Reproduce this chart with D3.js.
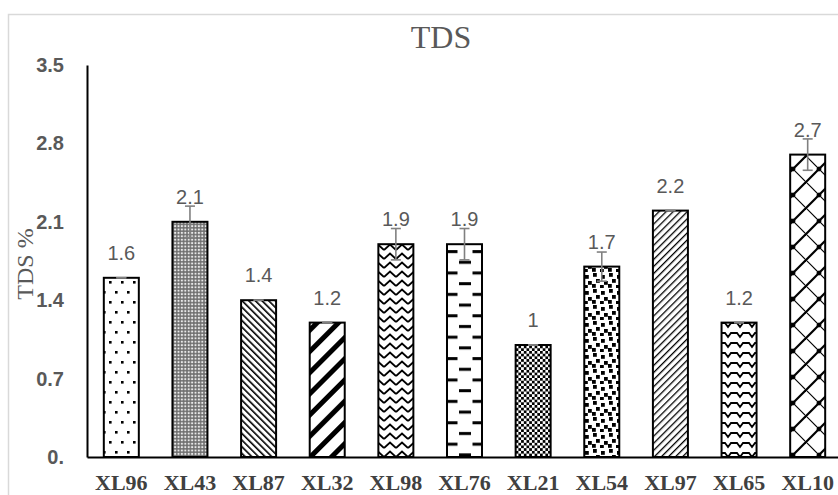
<!DOCTYPE html>
<html><head><meta charset="utf-8">
<script src="https://cdn.jsdelivr.net/npm/d3@7"></script>
<style>body{margin:0;background:#fff}svg{display:block}</style>
</head><body><svg id="c" width="838" height="495"></svg>
<script>
const categories = ["XL96","XL43","XL87","XL32","XL98","XL76","XL21","XL54","XL97","XL65","XL10"];
const values = [1.6,2.1,1.4,1.2,1.9,1.9,1.0,1.7,2.2,1.2,2.7];
const errors = [0,0.14,0,0,0.14,0.14,0,0.13,0,0,0.14];
const valueLabels = ["1.6","2.1","1.4","1.2","1.9","1.9","1","1.7","2.2","1.2","2.7"];
const yTickValues = [0,0.7,1.4,2.1,2.8,3.5];
const yTickLabels = ["0.","0.7","1.4","2.1","2.8","3.5"];
const chartTitle = "TDS";
const yAxisTitle = "TDS %";

const svg = d3.select("#c");
svg.append("rect").attr("width",838).attr("height",495).attr("fill","#fff");
svg.append("rect").attr("x",8.5).attr("y",14.5).attr("width",900).attr("height",600)
  .attr("fill","none").attr("stroke","#d9d9d9").attr("stroke-width",1.5);

const x = d3.scaleBand().domain(categories).range([87, 842]).paddingInner(0.49).paddingOuter(0.245);
const y = d3.scaleLinear().domain([0,3.5]).range([457,65]);

// patterns
const defs = svg.append("defs");
function pat(id,w,h,transform){
  const p = defs.append("pattern").attr("id",id).attr("patternUnits","userSpaceOnUse")
    .attr("width",w).attr("height",h);
  if (transform) p.attr("patternTransform",transform);
  p.append("rect").attr("width",w).attr("height",h).attr("fill","#fff");
  return p;
}
const patMakers = [
  () => { const p = pat("p0",12,20);
    p.append("rect").attr("x",1).attr("y",1).attr("width",2.6).attr("height",2.6).attr("fill","#000");
    p.append("rect").attr("x",7).attr("y",11).attr("width",2.6).attr("height",2.6).attr("fill","#000"); },
  () => { const p = pat("p1",3.4,3.4);
    p.select("rect").attr("fill","#6f6f6f");
    p.append("circle").attr("cx",1.7).attr("cy",1.7).attr("r",1.1).attr("fill","#e8e8e8"); },
  () => { const p = pat("p2",4.7,10,"rotate(-45)");
    p.append("rect").attr("x",0).attr("y",0).attr("width",1.6).attr("height",10).attr("fill","#000"); },
  () => { const p = pat("p3",15,20,"rotate(45)");
    p.append("rect").attr("x",0).attr("y",0).attr("width",5).attr("height",20).attr("fill","#000"); },
  () => { const p = pat("p4",12,9);
    p.append("path").attr("d","M0,7 L6,1.5 L12,7").attr("fill","none").attr("stroke","#000").attr("stroke-width",1.8); },
  () => { const p = pat("p5",27,21.4);
    p.append("rect").attr("x",0).attr("y",4).attr("width",12).attr("height",3).attr("fill","#000");
    p.append("rect").attr("x",13.5).attr("y",14.7).attr("width",12).attr("height",3).attr("fill","#000"); },
  () => { const p = pat("p6",5.4,5.4);
    p.append("rect").attr("x",0).attr("y",0).attr("width",2.7).attr("height",2.7).attr("fill","#000");
    p.append("rect").attr("x",2.7).attr("y",2.7).attr("width",2.7).attr("height",2.7).attr("fill","#000"); },
  () => { const p = pat("p7",16,16);
    [[1,1],[9,3],[4,7],[12,9],[0,12],[8,13]].forEach(([a,b]) =>
      p.append("rect").attr("x",a).attr("y",b).attr("width",3.8).attr("height",3.8).attr("fill","#000")); },
  () => { const p = pat("p8",5,10,"rotate(45)");
    p.append("rect").attr("x",0).attr("y",0).attr("width",1.3).attr("height",10).attr("fill","#000"); },
  () => { const p = pat("p9",12,10);
    p.append("path").attr("d","M0,3 H5 L8,7 L11,3 H12").attr("fill","none").attr("stroke","#000").attr("stroke-width",1.8); },
  () => { const p = pat("p10",26,26);
    p.append("path").attr("d","M0,26 L26,0").attr("stroke","#000").attr("stroke-width",2.2);
    p.append("path").attr("d","M0,0 L26,26").attr("stroke","#000").attr("stroke-width",1.2);
    p.append("rect").attr("x",11).attr("y",11).attr("width",4).attr("height",4).attr("fill","#000").attr("transform","rotate(45 13 13)"); }
];
patMakers.forEach(f => f());

// title
svg.append("text").attr("x",441).attr("y",48).attr("text-anchor","middle")
  .attr("font-family","'Liberation Serif','Times New Roman',serif").attr("font-size",32)
  .attr("fill","#595959").text(chartTitle);

// y axis title
svg.append("text").attr("transform","translate(33,264) rotate(-90)").attr("text-anchor","middle")
  .attr("font-family","'Liberation Serif','Times New Roman',serif").attr("font-size",24)
  .attr("fill","#595959").text(yAxisTitle);

// bars
const bw = x.bandwidth();
svg.append("g").selectAll("rect").data(categories).join("rect")
  .attr("x", d => x(d)).attr("y", (d,i) => y(values[i]))
  .attr("width", bw).attr("height", (d,i) => y(0) - y(values[i]))
  .attr("fill", (d,i) => `url(#p${i})`).attr("stroke","#000").attr("stroke-width",2);

// error bars
const eg = svg.append("g").attr("stroke","#808080").attr("stroke-width",1.6);
categories.forEach((c,i) => {
  const cx = x(c) + bw/2;
  const top = y(values[i] + errors[i]), bot = y(values[i] - errors[i]);
  if (errors[i] > 0) eg.append("line").attr("x1",cx).attr("x2",cx).attr("y1",top).attr("y2",bot);
  eg.append("line").attr("x1",cx-5).attr("x2",cx+5).attr("y1",top).attr("y2",top);
  eg.append("line").attr("x1",cx-5).attr("x2",cx+5).attr("y1",bot).attr("y2",bot);
});

// value labels
svg.append("g").selectAll("text").data(categories).join("text")
  .attr("x", d => x(d) + bw/2).attr("y", (d,i) => y(values[i]) - 18)
  .attr("text-anchor","middle").attr("font-family","'Liberation Sans',Arial,sans-serif")
  .attr("font-size",20).attr("fill","#595959").text((d,i) => valueLabels[i]);

// axes
const yAxis = svg.append("g").attr("transform","translate(87,0)")
  .call(d3.axisLeft(y).tickValues(yTickValues).tickFormat((d,i) => yTickLabels[i]).tickSize(0).tickSizeOuter(0).tickPadding(23));
yAxis.select(".domain").attr("stroke","#000").attr("stroke-width",2);
yAxis.selectAll("text").attr("font-family","'Liberation Sans',Arial,sans-serif").attr("font-size",20)
  .attr("font-weight","bold").attr("fill","#595959");

const xAxis = svg.append("g").attr("transform","translate(0,457)")
  .call(d3.axisBottom(x).tickSize(0).tickSizeOuter(0).tickPadding(17));
xAxis.select(".domain").attr("stroke","#000").attr("stroke-width",2);
xAxis.selectAll("text").attr("font-family","'Liberation Serif','Times New Roman',serif").attr("font-size",22)
  .attr("font-weight","bold").attr("fill","#404040");
</script>
</body></html>
